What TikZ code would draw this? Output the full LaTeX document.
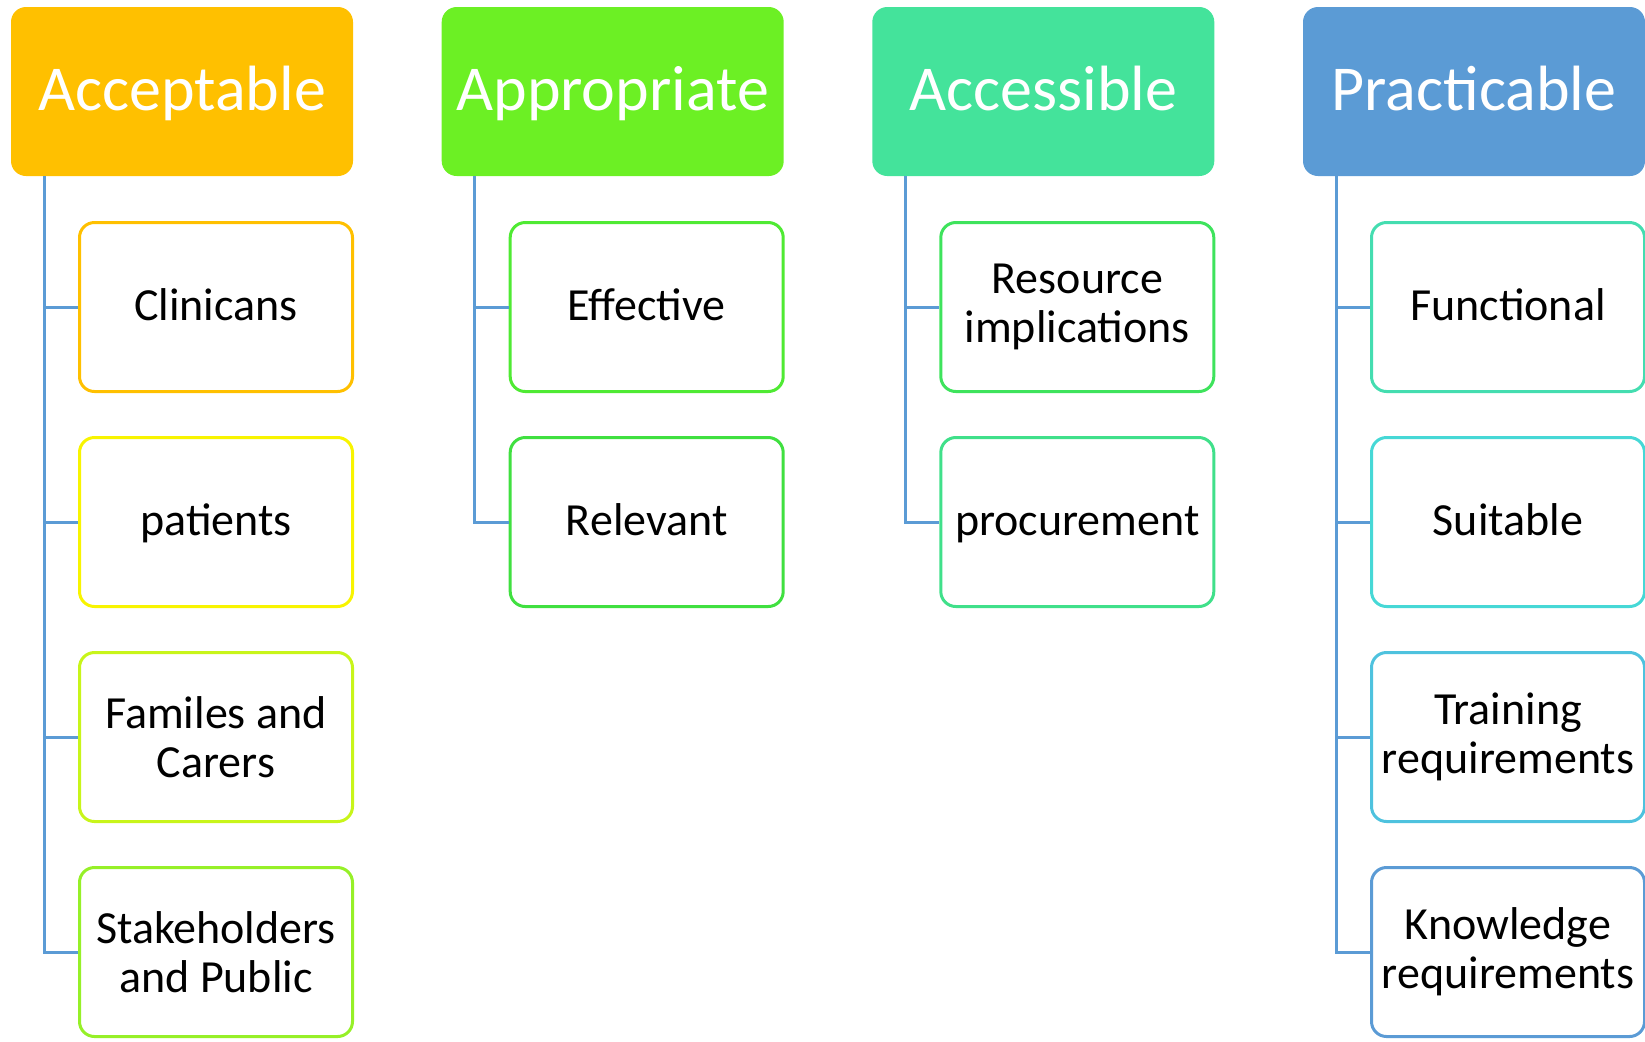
\documentclass[tikz,border=0pt]{standalone}
\usepackage{fontspec}
\setmainfont{Carlito}
\definecolor{cAccept}{HTML}{FFC000}
\definecolor{cApprop}{HTML}{6CF024}
\definecolor{cAccess}{HTML}{44E39B}
\definecolor{cPract}{HTML}{5B9BD5}
\definecolor{cLine}{HTML}{5B9BD5}
\definecolor{bA}{HTML}{FFC000}
\definecolor{bB}{HTML}{F8F400}
\definecolor{bC}{HTML}{C8F51A}
\definecolor{bD}{HTML}{96F028}
\definecolor{bE}{HTML}{4FEA33}
\definecolor{bF}{HTML}{40E040}
\definecolor{bG}{HTML}{3EE35C}
\definecolor{bH}{HTML}{40E08A}
\definecolor{bI}{HTML}{44DDB0}
\definecolor{bJ}{HTML}{46D8D6}
\definecolor{bK}{HTML}{4EC2DE}
\definecolor{bL}{HTML}{5B9BD5}
\tikzset{
  headbox/.style={rectangle, rounded corners=7.5pt, minimum width=171pt, minimum height=84.5pt,
    inner sep=0pt, text=white, font=\fontsize{32}{38}\selectfont, text height=18.5pt, text depth=0pt},
  childbox/.style={rectangle, rounded corners=7.5pt, draw=#1, line width=1.5pt, fill=white,
    minimum width=136.5pt, minimum height=84.5pt, inner sep=0pt, align=center,
    font=\fontsize{23}{24.5}\selectfont},
  oneline/.style={text height=13.5pt, text depth=0pt},
  conn/.style={draw=cLine, line width=1.5pt}
}
\begin{document}
\begin{tikzpicture}[x=0.5pt, y=-0.5pt]
\useasboundingbox (0,0) rectangle (1645,1041);
% headers
\node[headbox, fill=cAccept] (h1) at (182,91.5) {Acceptable};
\node[headbox, fill=cApprop] (h2) at (612.7,91.5) {Appropriate};
\node[headbox, fill=cAccess] (h3) at (1043.3,91.5) {Accessible};
\node[headbox, fill=cPract] (h4) at (1474,91.5) {Practicable};
% trunk coordinates
\coordinate (t1) at (44,0);
\coordinate (t2) at (474.7,0);
\coordinate (t3) at (905.3,0);
\coordinate (t4) at (1336,0);
% children column 1
\node[childbox=bA, oneline] (c11) at (216,307) {Clinicans};
\node[childbox=bB, oneline] (c12) at (216,522) {patients};
\node[childbox=bC] (c13) at (216,737) {Familes and\\Carers};
\node[childbox=bD] (c14) at (216,952) {Stakeholders\\and Public};
% column 2
\node[childbox=bE, oneline] (c21) at (646.7,307) {Effective};
\node[childbox=bF, oneline] (c22) at (646.7,522) {Relevant};
% column 3
\node[childbox=bG] (c31) at (1077.3,307) {Resource\\implications};
\node[childbox=bH, oneline] (c32) at (1077.3,522) {procurement};
% column 4
\node[childbox=bI, oneline] (c41) at (1508,307) {Functional};
\node[childbox=bJ, oneline] (c42) at (1508,522) {Suitable};
\node[childbox=bK] (c43) at (1508,737) {Training\\requirements};
\node[childbox=bL] (c44) at (1508,952) {Knowledge\\requirements};
% connectors
\draw[conn] (t1 |- h1.south) |- (c14.west);
\draw[conn] (t1 |- c11.west) -- (c11.west);
\draw[conn] (t1 |- c12.west) -- (c12.west);
\draw[conn] (t1 |- c13.west) -- (c13.west);
\draw[conn] (t2 |- h2.south) |- (c22.west);
\draw[conn] (t2 |- c21.west) -- (c21.west);
\draw[conn] (t3 |- h3.south) |- (c32.west);
\draw[conn] (t3 |- c31.west) -- (c31.west);
\draw[conn] (t4 |- h4.south) |- (c44.west);
\draw[conn] (t4 |- c41.west) -- (c41.west);
\draw[conn] (t4 |- c42.west) -- (c42.west);
\draw[conn] (t4 |- c43.west) -- (c43.west);
\end{tikzpicture}
\end{document}
